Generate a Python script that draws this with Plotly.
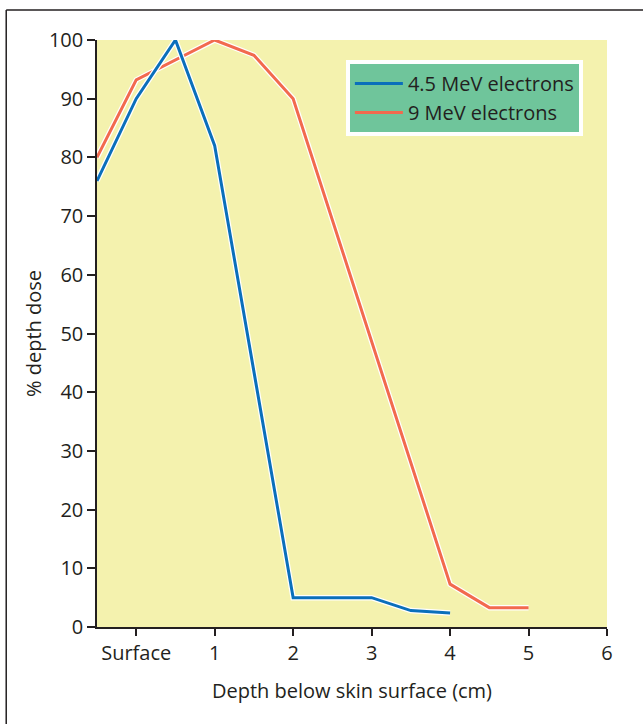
import plotly.graph_objects as go

# Percentage depth-dose curves for electron beams
depth_45 = [-0.5, 0, 0.5, 1, 2, 3, 3.5, 4]
dose_45 = [76, 90, 100, 82, 5, 5, 2.8, 2.4]

depth_9 = [-0.5, 0, 1, 1.5, 2, 4, 4.5, 5]
dose_9 = [80, 93.2, 100, 97.4, 90, 7.3, 3.3, 3.3]

x_tickvals = [0, 1, 2, 3, 4, 5, 6]
x_ticktext = ["Surface", "1", "2", "3", "4", "5", "6"]
y_tickvals = [0, 10, 20, 30, 40, 50, 60, 70, 80, 90, 100]

BLUE = "#0a6fbb"
RED = "#f26a4e"
TEXT = "#231f20"
FONT = "Open Sans"
FS = 20

fig = go.Figure()

series = [
    ("9 MeV electrons", depth_9, dose_9, RED),
    ("4.5 MeV electrons", depth_45, dose_45, BLUE),
]

# white halo under each curve
for name, xs, ys, col in series:
    fig.add_trace(go.Scatter(x=xs, y=ys, mode="lines", showlegend=False,
                             hoverinfo="skip",
                             line=dict(color="white", width=5.5)))
    fig.add_trace(go.Scatter(x=xs, y=ys, mode="lines", name=name,
                             line=dict(color=col, width=3)))

fig.update_layout(
    width=643, height=724,
    margin=dict(l=97, r=36, t=40, b=97),
    paper_bgcolor="white",
    plot_bgcolor="#f4f2ae",
    font=dict(family=FONT, size=FS, color=TEXT),
    legend=dict(
        x=0.488, y=0.966, xanchor="left", yanchor="top",
        bgcolor="#6fc59b", bordercolor="white", borderwidth=4,
        font=dict(family=FONT, size=FS, color=TEXT),
        traceorder="reversed", itemwidth=48,
        tracegroupgap=0,
    ),
    xaxis=dict(
        range=[-0.5, 6], tickvals=x_tickvals, ticktext=x_ticktext,
        showgrid=False, zeroline=False, showline=True,
        linecolor=TEXT, linewidth=1.5, ticks="outside", ticklen=7,
        tickcolor=TEXT, tickwidth=1.5,
        tickfont=dict(size=FS),
        title=dict(text="Depth below skin surface (cm)", standoff=19,
                   font=dict(size=FS)),
    ),
    yaxis=dict(
        range=[0, 100], tickvals=y_tickvals,
        showgrid=False, zeroline=False, showline=True,
        linecolor=TEXT, linewidth=1.5, ticks="outside", ticklen=8,
        tickcolor=TEXT, tickwidth=1.5,
        tickfont=dict(size=FS),
        title=dict(text="% depth dose", standoff=2, font=dict(size=FS)),
    ),
    shapes=[
        # outer frame (top and left edges)
        dict(type="line", xref="paper", yref="paper",
             x0=-0.178, x1=1.08, y0=1.0511, y1=1.0511,
             line=dict(color=TEXT, width=1.5)),
        dict(type="line", xref="paper", yref="paper",
             x0=-0.178, x1=-0.178, y0=1.0511, y1=-0.17,
             line=dict(color=TEXT, width=1.5)),
    ],
)

fig.write_html("out.html")
